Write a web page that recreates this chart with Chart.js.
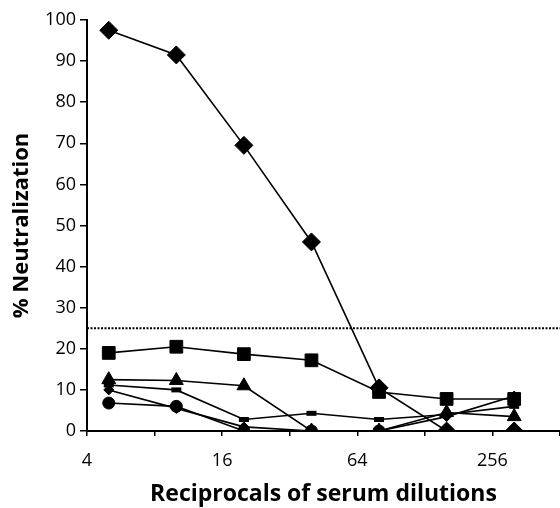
<!DOCTYPE html>
<html>
<head>
<meta charset="utf-8">
<script src="https://cdn.jsdelivr.net/npm/chart.js@4.4.1/dist/chart.umd.min.js"></script>
<style>
  html, body { margin: 0; padding: 0; background: #fff; }
  #wrap { width: 560px; height: 508px; }
</style>
</head>
<body>
<div id="wrap"><canvas id="neutChart"></canvas></div>
<script>
// --- Data ---
const dilutions = [5, 10, 20, 40, 80, 160, 320];
const xTicks = [4, 8, 16, 32, 64, 128, 256, 512];
const xLabels = [4, 16, 64, 256];
const yTicks = [0, 10, 20, 30, 40, 50, 60, 70, 80, 90, 100];
const cutoff = 25;

const serumDiamond = [97.5, 91.5, 69.5, 46, 10.5, 0, 0];
const serumSquare = [19, 20.5, 18.7, 17.2, 9.5, 7.8, 7.8];
const serumTriangle = [12.5, 12.3, 11, 0, 0, 4.5, 3.5];
const serumDash = [11.2, 10, 2.8, 4.3, 2.8, 4, 6];
const serumStar = [10, 5.5, 1, 0, 0, 3.5, 8.5];
const serumCircle = [6.8, 6, 0, 0, 0, 0, 0];

const font = "'Open Sans', 'Noto Sans', sans-serif";

function toPoints(values) {
    return values.map((v, i) => ({ x: dilutions[i], y: v }));
}

function serie(values, style, radius, borderW) {
    return {
        data: toPoints(values),
        borderColor: '#000',
        backgroundColor: '#000',
        borderWidth: 1.6,
        pointStyle: style,
        pointRadius: radius,
        pointBorderWidth: borderW,
        pointBackgroundColor: '#000',
        pointBorderColor: '#000'
    };
}

document.addEventListener('DOMContentLoaded', () => {
    const ctx = document.getElementById('neutChart').getContext('2d');

    new Chart(ctx, {
        type: 'line',
        data: {
            datasets: [
                {
                    data: [{ x: 4, y: cutoff }, { x: 512, y: cutoff }],
                    borderColor: '#000',
                    borderWidth: 2,
                    borderDash: [2, 1.5],
                    pointRadius: 0
                },
                serie(serumCircle, 'circle', 6, 1),
                serie(serumStar, 'rectRot', 5, 1),
                serie(serumDash, 'line', 5, 5),
                serie(serumTriangle, 'triangle', 8, 1),
                serie(serumSquare, 'rect', 9, 1),
                serie(serumDiamond, 'rectRot', 9, 1)
            ]
        },
        options: {
            responsive: true,
            maintainAspectRatio: false,
            animation: false,
            layout: { autoPadding: false, padding: { top: 20, right: 0, bottom: 0, left: 0 } },
            plugins: {
                legend: { display: false },
                tooltip: { enabled: false }
            },
            scales: {
                x: {
                    type: 'logarithmic',
                    min: 4,
                    max: 512,
                    afterBuildTicks: (scale) => {
                        scale.ticks = xTicks.map(v => ({ value: v }));
                    },
                    afterFit: (scale) => {
                        scale.height = 77;
                        scale.paddingLeft = 0;
                        scale.paddingRight = 0;
                    },
                    grid: { drawOnChartArea: false, drawTicks: true, tickLength: 5, color: '#000', lineWidth: 1.5 },
                    border: { display: true, color: '#000', width: 2 },
                    ticks: {
                        autoSkip: false,
                        maxRotation: 0,
                        padding: 14,
                        color: '#000',
                        font: { family: font, size: 18 },
                        callback: (value) => xLabels.includes(value) ? String(value) : ''
                    },
                    title: {
                        display: true,
                        text: 'Reciprocals of serum dilutions',
                        color: '#000',
                        padding: { top: 0, bottom: 0 },
                        font: { family: font, size: 23, weight: 'bold' }
                    }
                },
                y: {
                    min: 0,
                    max: 100,
                    afterBuildTicks: (scale) => {
                        scale.ticks = yTicks.map(v => ({ value: v }));
                    },
                    afterFit: (scale) => { scale.width = 87; },
                    grid: { drawOnChartArea: false, drawTicks: true, tickLength: 7, color: '#000', lineWidth: 1.5 },
                    border: { display: true, color: '#000', width: 2 },
                    ticks: {
                        padding: 4,
                        color: '#000',
                        font: { family: font, size: 18 }
                    },
                    title: {
                        display: true,
                        text: '% Neutralization',
                        color: '#000',
                        padding: { top: 9, bottom: 0 },
                        font: { family: font, size: 22, weight: 'bold' }
                    }
                }
            }
        }
    });
});
</script>
</body>
</html>
